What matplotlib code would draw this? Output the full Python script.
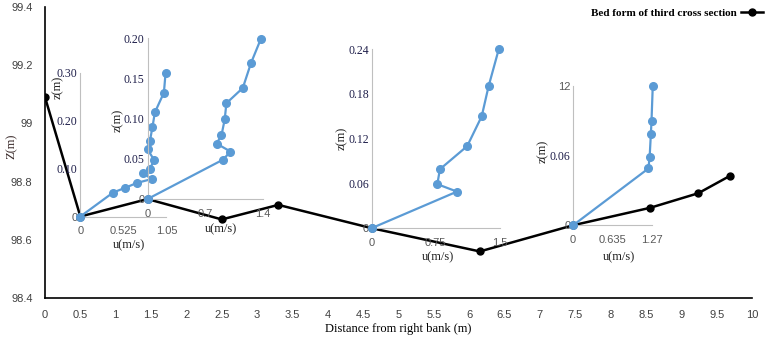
import matplotlib.pyplot as plt
from matplotlib.lines import Line2D

# lecho del cauce (tercera seccion)
bed_x = [0, 0.5, 1.45, 2.5, 3.3, 4.62, 6.15, 7.47, 8.56, 9.24, 9.69]
bed_z = [99.09, 98.68, 98.74, 98.67, 98.72, 98.64, 98.56, 98.65, 98.71, 98.76, 98.82]

# perfiles de velocidad
u1 = [0, 0.40, 0.55, 0.69, 0.87, 0.77, 0.85, 0.90, 0.82, 0.85, 0.88, 0.91, 1.02, 1.04]
z1 = [0, 0.050, 0.060, 0.070, 0.078, 0.090, 0.099, 0.118, 0.140, 0.158, 0.186, 0.217, 0.258, 0.298]
u2 = [0, 0.92, 1.01, 0.84, 0.90, 0.94, 0.96, 1.16, 1.26, 1.38]
z2 = [0, 0.049, 0.059, 0.069, 0.079, 0.099, 0.119, 0.138, 0.169, 0.199]
u3 = [0, 1.00, 0.77, 0.80, 1.12, 1.29, 1.37, 1.49]
z3 = [0, 0.049, 0.059, 0.079, 0.110, 0.150, 0.190, 0.240]
u4 = [0, 1.21, 1.23, 1.25, 1.26, 1.28]
z4 = [0, 0.049, 0.059, 0.079, 0.090, 0.120]

xt1 = [0, 0.525, 1.05]; yt1 = [0, 0.10, 0.20, 0.30]; ytl1 = ["0", "0.10", "0.20", "0.30"]
xt2 = [0, 0.7, 1.4]; yt2 = [0, 0.05, 0.10, 0.15, 0.20]; ytl2 = ["0", "0.05", "0.10", "0.15", "0.20"]
xt3 = [0, 0.75, 1.5]; yt3 = [0, 0.06, 0.12, 0.18, 0.24]; ytl3 = ["0", "0.06", "0.12", "0.18", "0.24"]
xt4 = [0, 0.635, 1.27]; yt4 = [0, 0.06, 0.12]; ytl4 = ["0", "0.06", "12"]

SERIF = "Liberation Serif"
SANS = "Liberation Sans"
AZUL = "#5B9BD5"
GRIS = "#BFBFBF"
TXT = "#1E1E4A"

fig = plt.figure(figsize=(7.75, 3.42), dpi=100)
ax = fig.add_axes([45 / 775, 44 / 342, 707 / 775, 291 / 342])
ax.set_xlim(0, 10)
ax.set_ylim(98.4, 99.4)
ax.set_xticks([i * 0.5 for i in range(21)])
ax.set_xticklabels(["%g" % (i * 0.5) for i in range(21)])
ax.set_yticks([98.4, 98.6, 98.8, 99.0, 99.2, 99.4])
ax.set_yticklabels(["98.4", "98.6", "98.8", "99", "99.2", "99.4"])
ax.tick_params(axis="both", length=0, labelsize=8, colors="#404040")
ax.tick_params(axis="x", pad=9)
ax.tick_params(axis="y", pad=9)
for lab in ax.get_xticklabels() + ax.get_yticklabels():
    lab.set_family(SANS)
for s in ["top", "right"]:
    ax.spines[s].set_visible(False)
for s in ["left", "bottom"]:
    ax.spines[s].set_color("black")
    ax.spines[s].set_linewidth(1.2)
ax.patch.set_alpha(0)
ax.set_xlabel("Distance from right bank (m)", family=SERIF, fontsize=9, labelpad=2)
ax.set_ylabel("Z(m)", family=SERIF, fontsize=9, color="#3A2A2A")
ax.yaxis.set_label_coords(-0.038, 0.52)

ax.plot(bed_x, bed_z, color="black", lw=1.8, marker="o", ms=5, zorder=3)

handle = Line2D([], [], color="black", lw=1.8, marker="o", ms=5)
ax.legend([handle], ["Bed form of third cross section"], loc="upper right",
          bbox_to_anchor=(1.03, 1.03), frameon=False, markerfirst=False,
          handlelength=2.0, handletextpad=0.4,
          prop={"family": SERIF, "weight": "bold", "size": 8})

px_x = 10 / 707
px_y = 1.0 / 291

perfiles = [
    (u1, z1, xt1, yt1, ytl1, 0.5, 98.68, 86, 144, (-0.26, 0.90), (0.56, -0.20)),
    (u2, z2, xt2, yt2, ytl2, 1.45, 98.74, 115, 161, (-0.26, 0.49), (0.635, -0.19)),
    (u3, z3, xt3, yt3, ytl3, 4.62, 98.64, 128, 179, (-0.23, 0.50), (0.52, -0.16)),
    (u4, z4, xt4, yt4, ytl4, 7.47, 98.65, 79, 139, (-0.38, 0.53), (0.58, -0.23)),
]

for u, z, xt, yt, ytl, x0, y0, w, h, zpos, upos in perfiles:
    ins = ax.inset_axes([x0, y0, w * px_x, h * px_y], transform=ax.transData)
    ins.set_xlim(xt[0], xt[-1])
    ins.set_ylim(yt[0], yt[-1])
    ins.patch.set_alpha(0)
    for s in ["top", "right"]:
        ins.spines[s].set_visible(False)
    for s in ["left", "bottom"]:
        ins.spines[s].set_color(GRIS)
        ins.spines[s].set_linewidth(0.8)
    ins.set_xticks(xt)
    ins.set_xticklabels(["%g" % v for v in xt], family=SANS, fontsize=8, color="#595959")
    ins.set_yticks(yt)
    ins.set_yticklabels(ytl)
    for i, lab in enumerate(ins.get_yticklabels()):
        if i == 0 or ytl[i] == "12":
            lab.set_family(SANS)
            lab.set_color("#595959")
            lab.set_fontsize(8)
        else:
            lab.set_family(SERIF)
            lab.set_color(TXT)
            lab.set_fontsize(8.5)
    ins.tick_params(axis="both", length=0)
    ins.tick_params(axis="x", pad=7)
    ins.tick_params(axis="y", pad=2)
    ins.plot(u, z, color=AZUL, lw=1.6, marker="o", ms=5.5, clip_on=False, zorder=4)
    ins.text(zpos[0], zpos[1], "z(m)", transform=ins.transAxes, rotation=90,
             ha="center", va="center", family=SERIF, fontsize=9, color="#222222")
    ins.text(upos[0], upos[1], "u(m/s)", transform=ins.transAxes,
             ha="center", va="center", family=SERIF, fontsize=9, color="#222222")

fig.savefig("out.png", dpi=100)
